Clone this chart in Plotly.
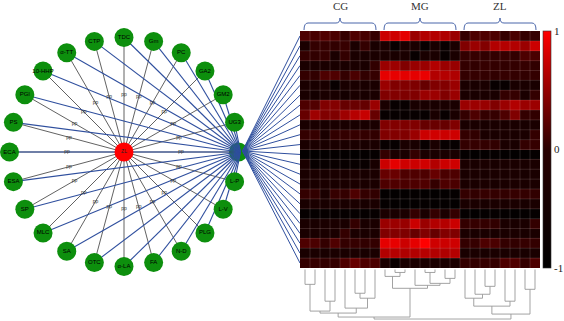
import math
import plotly.graph_objects as go

W, H = 564, 321

# ---------------- data ----------------
node_labels = ["TDC", "Gm", "PC", "GA2", "GM2", "UG3", "", "L-P", "L-V", "PLG", "N-D", "FA",
               "α-LA", "OTC", "SA", "MLC", "SP", "ESA", "ECA", "PS", "PGI", "10-HHP", "α-TT", "CTP"]
hub_index = 6
center_label = "ZL"
edge_label = "pp"

groups = ["CG", "MG", "ZL"]
replicates = 8
row_ids = list(range(1, 25))

cg_values = [
    [0.17, 0.15, 0.19, 0.16, 0.05, 0.18, 0.14, 0.06],
    [-0.36, 0.05, 0.06, 0.04, 0.07, -0.34, 0.05, -0.38],
    [0.05, 0.04, 0.06, -0.36, 0.05, -0.35, -0.38, -0.36],
    [-0.36, -0.38, -0.34, -0.37, -0.36, -0.35, -0.38, 0.04],
    [0.05, 0.04, 0.17, 0.18, 0.05, 0.16, 0.04, 0.06],
    [-0.36, -0.38, -0.35, -0.8, -0.37, -0.36, -0.38, -0.34],
    [-0.38, -0.5, -0.36, -0.37, -0.5, -0.36, -0.4, -0.36],
    [0.17, 0.19, 0.41, 0.43, 0.29, 0.3, 0.28, 0.53],
    [0.29, 0.55, 0.41, 0.4, 0.55, 0.66, 0.74, 0.29],
    [-0.38, -0.36, -0.4, -0.36, -0.37, -0.4, -0.38, -0.36],
    [0.05, 0.06, -0.36, 0.04, 0.05, 0.06, 0.05, 0.04],
    [-0.36, -0.34, -0.37, -0.35, -0.36, -0.34, -0.38, -0.36],
    [-0.9, -0.92, -0.9, -0.88, -0.9, -0.92, -0.9, -0.88],
    [-0.36, -0.8, -0.8, -0.78, -0.8, -0.8, -0.78, -0.4],
    [-0.38, -0.36, -0.4, -0.36, -0.37, -0.36, -0.4, -0.36],
    [-0.36, -0.38, -0.36, -0.4, -0.37, -0.36, -0.38, -0.36],
    [0.05, 0.04, -0.36, 0.06, 0.05, 0.17, 0.05, 0.04],
    [-0.38, -0.36, -0.4, -0.36, -0.37, -0.36, -0.4, -0.36],
    [-0.85, -0.88, -0.85, -0.86, -0.85, -0.84, -0.88, -0.85],
    [-0.36, -0.38, -0.36, -0.36, -0.37, 0.05, -0.38, -0.36],
    [-0.36, -0.38, -0.37, -0.36, 0.05, -0.36, -0.38, -0.36],
    [0.17, 0.16, 0.05, 0.18, 0.05, 0.06, 0.04, 0.05],
    [-0.38, -0.36, -0.4, -0.36, -0.37, -0.36, -0.4, -0.36],
    [0.05, 0.06, 0.04, 0.05, 0.17, 0.29, 0.17, 0.16],
]
mg_values = [
    [0.76, 0.77, 0.88, 0.53, 0.64, 0.65, 0.63, 0.53],
    [-0.36, -0.8, -0.38, -0.36, -0.8, -0.37, -0.8, -0.36],
    [-0.36, -0.38, -0.36, -0.8, -0.37, -0.36, -0.8, -0.36],
    [0.53, 0.54, 0.41, 0.52, 0.53, 0.64, 0.53, 0.52],
    [0.88, 0.89, 0.87, 0.88, 0.9, 0.64, 0.65, 0.63],
    [0.53, 0.41, 0.42, 0.4, 0.29, 0.41, 0.42, 0.53],
    [0.41, 0.42, 0.4, 0.41, 0.53, 0.54, 0.41, 0.53],
    [-0.36, -0.8, -0.8, -0.38, -0.36, -0.37, -0.36, -0.36],
    [-0.8, -0.82, -0.8, -0.8, -0.82, -0.36, -0.8, -0.36],
    [0.41, 0.42, 0.4, 0.41, 0.29, 0.3, 0.29, 0.41],
    [0.41, 0.42, 0.41, 0.53, 0.76, 0.78, 0.76, 0.77],
    [-0.8, -0.82, -0.36, -0.37, -0.8, -0.36, -0.8, -0.82],
    [0.05, -0.36, -0.38, 0.05, -0.36, -0.37, -0.36, -0.38],
    [0.76, 0.88, 0.77, 0.76, 0.78, 0.64, 0.76, 0.77],
    [0.29, 0.3, 0.17, 0.18, 0.17, 0.29, 0.16, 0.17],
    [0.17, 0.18, 0.16, 0.17, 0.18, 0.05, 0.17, 0.16],
    [-0.9, -0.92, -0.9, -0.88, -0.9, -0.92, -0.9, -0.88],
    [-0.88, -0.9, -0.92, -0.9, -0.88, -0.9, -0.9, -0.92],
    [-0.36, -0.37, -0.36, 0.05, -0.38, 0.05, -0.36, 0.05],
    [0.53, 0.54, 0.52, 0.76, 0.53, 0.64, 0.65, 0.76],
    [0.41, 0.42, 0.4, 0.29, 0.41, 0.29, 0.42, 0.41],
    [0.88, 0.89, 0.76, 0.88, 1.0, 0.77, 0.76, 0.77],
    [0.64, 0.65, 0.63, 0.64, 0.66, 0.64, 0.63, 0.65],
    [-0.36, -0.8, -0.37, -0.36, -0.38, -0.36, -0.37, -0.36],
]
zl_values = [
    [0.05, 0.17, 0.18, 0.17, 0.05, 0.16, 0.05, 0.06],
    [0.41, 0.53, 0.42, 0.64, 0.65, 0.64, 0.53, 0.76],
    [0.05, 0.06, 0.04, 0.05, 0.06, 0.05, 0.17, 0.16],
    [0.05, 0.04, 0.06, 0.05, 0.04, 0.05, 0.06, 0.04],
    [0.05, 0.06, 0.05, 0.04, 0.06, 0.05, 0.04, 0.05],
    [-0.36, -0.38, -0.36, -0.8, -0.8, -0.37, -0.36, -0.38],
    [-0.36, -0.38, -0.36, -0.37, 0.05, 0.06, -0.36, 0.05],
    [0.53, 0.54, 0.52, 0.41, 0.53, 0.64, 0.53, 0.54],
    [0.05, 0.17, 0.05, 0.06, 0.17, 0.41, 0.05, 0.04],
    [-0.38, -0.36, -0.4, -0.36, -0.37, -0.36, -0.4, -0.36],
    [0.05, 0.04, -0.36, -0.37, -0.36, -0.38, -0.36, 0.05],
    [0.05, 0.06, 0.05, 0.04, -0.36, -0.37, 0.05, 0.06],
    [-0.9, -0.92, -0.9, -0.88, -0.9, -0.92, -0.9, -0.88],
    [-0.36, -0.38, -0.36, -0.4, -0.37, -0.36, -0.38, -0.36],
    [-0.38, -0.36, -0.4, -0.36, -0.37, -0.36, -0.4, -0.36],
    [-0.36, -0.38, -0.36, -0.4, -0.37, -0.36, -0.38, -0.36],
    [0.05, 0.04, 0.06, 0.05, 0.04, 0.06, 0.05, 0.04],
    [-0.38, -0.36, -0.4, -0.36, -0.37, -0.36, -0.4, -0.36],
    [-0.9, -0.92, -0.9, -0.88, -0.9, -0.92, -0.9, -0.88],
    [0.05, 0.06, 0.05, 0.04, -0.36, -0.37, -0.36, 0.05],
    [-0.36, -0.38, -0.36, -0.4, -0.37, -0.36, -0.38, -0.36],
    [0.05, 0.06, 0.17, 0.16, 0.05, 0.04, 0.06, 0.05],
    [-0.38, -0.36, -0.4, -0.36, -0.37, -0.36, -0.4, -0.36],
    [0.05, 0.04, 0.06, 0.05, 0.17, 0.18, 0.05, 0.17],
]

# column dendrogram: (child_a, child_b, merge height); leaves 0..23, new nodes from 24
dendro_merges = [
    (0, 1, 15), (2, 3, 32), (5, 6, 24), (26, 7, 29), (4, 27, 39), (24, 25, 42), (29, 28, 44),
    (9, 10, 3), (8, 31, 7), (12, 13, 3), (14, 15, 9), (33, 34, 14), (11, 35, 16), (32, 36, 19),
    (18, 19, 17), (22, 23, 20), (17, 38, 25), (16, 40, 29), (20, 21, 32), (41, 42, 37), (43, 39, 45),
    (30, 37, 48), (45, 44, 50),
]

# ---------------- layout geometry ----------------
CX, CY, R = 124.0, 152.0, 114.5
HM_L, HM_R, HM_T, HM_B = 300, 540, 31, 268
BLUE = "#2f4f9e"
GREEN = "#0d8f0d"

n = len(node_labels)
ang = [math.radians(90 - 15 * k) for k in range(n)]
nx = [CX + R * math.cos(a) for a in ang]
ny = [CY - R * math.sin(a) for a in ang]
hx, hy = nx[hub_index], ny[hub_index]

fig = go.Figure()

# hub node (drawn under the lines)
fig.add_trace(go.Scatter(x=[hx], y=[hy], mode="markers+text", text=[node_labels[hub_index]],
                         marker=dict(size=19, color=GREEN, line=dict(width=0)),
                         textfont=dict(size=6, color="black", family="Liberation Sans"),
                         hoverinfo="skip"))

# center -> node edges
ex, ey = [], []
for k in range(n):
    ex += [CX, nx[k], None]
    ey += [CY, ny[k], None]
fig.add_trace(go.Scatter(x=ex, y=ey, mode="lines", line=dict(color="#3a3a3a", width=0.8),
                         hoverinfo="skip"))

# node -> hub edges (blue)
bx, by = [], []
for k in range(n):
    if k == hub_index:
        continue
    bx += [nx[k], hx + 2, None]
    by += [ny[k], hy, None]
fig.add_trace(go.Scatter(x=bx, y=by, mode="lines", line=dict(color=BLUE, width=1.1),
                         hoverinfo="skip"))

# hub -> heatmap rows (blue)
nrows = len(row_ids)
rh = (HM_B - HM_T) / nrows
hx2, hy2 = [], []
for i in range(nrows):
    hx2 += [hx + 4, HM_L, None]
    hy2 += [hy - 1, HM_T + (i + 0.5) * rh, None]
fig.add_trace(go.Scatter(x=hx2, y=hy2, mode="lines", line=dict(color=BLUE, width=1.0),
                         hoverinfo="skip"))

# green nodes
gk = [k for k in range(n) if k != hub_index]
fig.add_trace(go.Scatter(x=[nx[k] for k in gk], y=[ny[k] for k in gk], mode="markers+text",
                         text=[node_labels[k] for k in gk], textposition="middle center",
                         marker=dict(size=19, color=GREEN, line=dict(width=0)),
                         textfont=dict(size=6, color="black", family="Liberation Sans"),
                         hoverinfo="skip"))

# center red node
fig.add_trace(go.Scatter(x=[CX], y=[CY], mode="markers+text", text=[center_label],
                         marker=dict(size=19, color="#ff0000", line=dict(width=0)),
                         textfont=dict(size=5, color="#222", family="Liberation Sans"),
                         hoverinfo="skip"))

# edge labels
lr = 57
fig.add_trace(go.Scatter(x=[CX + lr * math.cos(a) for a in ang],
                         y=[CY - lr * math.sin(a) for a in ang],
                         mode="text", text=[edge_label] * n,
                         textfont=dict(size=5, color="#333", family="Liberation Sans"),
                         hoverinfo="skip"))

# heatmap
z = [cg_values[i] + mg_values[i] + zl_values[i] for i in range(nrows)]
ncols = len(groups) * replicates
fig.add_trace(go.Heatmap(
    z=z, x=list(range(ncols)), y=list(range(nrows)), xaxis="x2", yaxis="y2",
    zmin=-1, zmax=1,
    colorscale=[[0, "#000000"], [0.5, "#280000"], [1, "#ff0000"]],
    colorbar=dict(x=543 / W, xanchor="left", y=(H - HM_T) / H, yanchor="top",
                  len=(HM_B - HM_T) / H, lenmode="fraction", thickness=8,
                  tickvals=[-1, 0, 1], ticktext=["-1", "0", "1"], ticks="",
                  tickfont=dict(family="Liberation Serif", size=11, color="#222"),
                  outlinewidth=0.6, outlinecolor="#333", xpad=0, ypad=0),
    hoverinfo="skip"))

# faint grid over cells
gx, gy = [], []
for c in range(1, ncols):
    gx += [c - 0.5, c - 0.5, None]
    gy += [-0.5, nrows - 0.5, None]
for r in range(1, nrows):
    gx += [-0.5, ncols - 0.5, None]
    gy += [r - 0.5, r - 0.5, None]
fig.add_trace(go.Scatter(x=gx, y=gy, xaxis="x2", yaxis="y2", mode="lines",
                         line=dict(color="rgba(255,220,220,0.22)", width=0.7), hoverinfo="skip"))

# dendrogram
pos = {i: float(i) for i in range(ncols)}
ht = {i: 0.0 for i in range(ncols)}
dx, dy = [], []
for k, (a, b, h) in enumerate(dendro_merges):
    nid = ncols + k
    dx += [pos[a], pos[a], pos[b], pos[b], None]
    dy += [ht[a], h, h, ht[b], None]
    pos[nid] = (pos[a] + pos[b]) / 2
    ht[nid] = h
fig.add_trace(go.Scatter(x=dx, y=dy, xaxis="x2", yaxis="y3", mode="lines",
                         line=dict(color="#999999", width=0.9), hoverinfo="skip"))

# braces and group titles
shapes, annotations = [], []
for g, name in enumerate(groups):
    x0 = g * replicates - 0.5 + 0.4
    x1 = g * replicates + replicates - 0.5 - 0.4
    xc = (x0 + x1) / 2
    path = (f"M {x0},30 Q {x0},23 {x0+0.4},23 L {xc-0.4},23 Q {xc},23 {xc},18 "
            f"Q {xc},23 {xc+0.4},23 L {x1-0.4},23 Q {x1},23 {x1},30")
    shapes.append(dict(type="path", path=path, xref="x2", yref="y",
                       line=dict(color="#4a66aa", width=1)))
    annotations.append(dict(x=xc, y=6, xref="x2", yref="y", text=name, showarrow=False,
                            font=dict(family="Liberation Serif", size=11, color="#333")))

fig.update_layout(
    width=W, height=H, margin=dict(l=0, r=0, t=0, b=0),
    paper_bgcolor="white", plot_bgcolor="rgba(0,0,0,0)", showlegend=False,
    xaxis=dict(domain=[0, 1], range=[0, W], visible=False),
    yaxis=dict(domain=[0, 1], range=[H, 0], visible=False),
    xaxis2=dict(domain=[HM_L / W, HM_R / W], range=[-0.5, ncols - 0.5], visible=False, anchor="y2"),
    yaxis2=dict(domain=[(H - HM_B) / H, (H - HM_T) / H], range=[nrows - 0.5, -0.5],
                visible=False, anchor="x2"),
    yaxis3=dict(domain=[0, (H - HM_B) / H], range=[52, -1.5], visible=False, anchor="x2"),
    shapes=shapes, annotations=annotations,
)

fig.write_html("out.html", config={"displayModeBar": False},
               post_script="document.body.style.margin='0';document.body.style.overflow='hidden';")
